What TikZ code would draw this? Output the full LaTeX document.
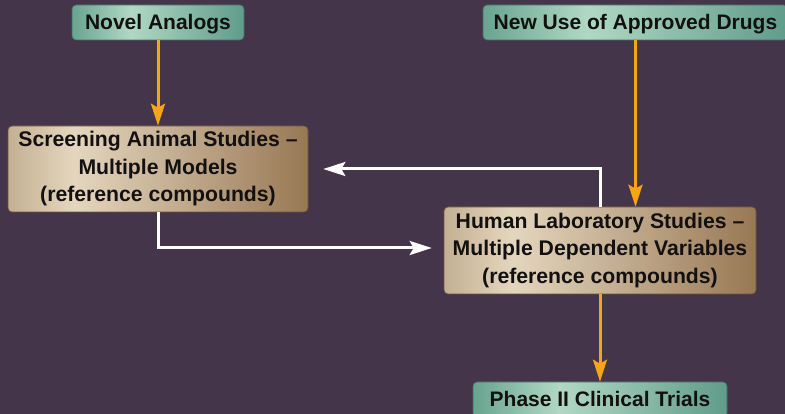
\documentclass[tikz,border=0pt]{standalone}
\usepackage{fontspec}
\setmainfont{Liberation Sans}
\usetikzlibrary{arrows.meta,calc}
\definecolor{bg}{RGB}{69,53,74}
\definecolor{orarrow}{RGB}{245,165,22}
\definecolor{txt}{RGB}{18,16,16}
\definecolor{grA}{RGB}{104,164,144}
\definecolor{grB}{RGB}{176,216,196}
\definecolor{grC}{RGB}{96,156,138}
\definecolor{tnA}{RGB}{196,176,146}
\definecolor{tnB}{RGB}{228,214,190}
\definecolor{tnC}{RGB}{152,120,84}
\pgfdeclarehorizontalshading{greensh}{100bp}{color(0bp)=(grA); color(25bp)=(grA); color(42bp)=(grB); color(75bp)=(grC); color(100bp)=(grC)}
\pgfdeclarehorizontalshading{tansh}{100bp}{color(0bp)=(tnA); color(25bp)=(tnA); color(36bp)=(tnB); color(75bp)=(tnC); color(100bp)=(tnC)}
\tikzset{
  greenbox/.style={rounded corners=4pt, shading=greensh, draw=grC!70!black, line width=0.6pt,
    inner sep=0pt, text height=15pt, text depth=0pt, font=\bfseries\fontsize{21}{23}\selectfont, text=txt, align=center},
  tanbox/.style={rounded corners=4pt, shading=tansh, draw=tnC!70!black, line width=0.6pt,
    inner sep=0pt, font=\bfseries\fontsize{21.2}{27.5}\selectfont, text=txt, align=center},
  orline/.style={draw=orarrow, line width=3pt, -{Stealth[length=22pt,width=14pt,inset=4pt]}},
  whline/.style={draw=white, line width=3pt, -{Stealth[length=22pt,width=14pt,inset=4pt]}},
}
\begin{document}
\begin{tikzpicture}[x=1pt,y=1pt]
\fill[bg] (0,0) rectangle (785,414);
\useasboundingbox (0,0) rectangle (785,414);
\begin{scope}
\clip (0,0) rectangle (785,414);
\node[greenbox, minimum width=172pt, minimum height=35pt] (novel) at (158,391.5) {Novel Analogs};
\node[greenbox, minimum width=305pt, minimum height=35pt] (newuse) at (635.5,391.5) {New Use of Approved Drugs};
\node[tanbox, minimum width=300pt, minimum height=86pt] (screen) at (158,245) {Screening Animal Studies –\\Multiple Models\\(reference compounds)};
\node[tanbox, minimum width=312pt, minimum height=87pt] (human) at (600,163.5) {Human Laboratory Studies –\\Multiple Dependent Variables\\(reference compounds)};
\node[greenbox, minimum width=254pt, minimum height=35pt] (phase) at (600,14.5) {Phase II Clinical Trials};
\end{scope}
\coordinate (wl) at ($(screen.east)+(15,0)$);
\coordinate (wr) at ($(human.west)+(-12,2.5)$);
\draw[orline] (novel.south) -- (screen.north);
\draw[orline] (newuse.south) -- (newuse.south |- human.north);
\draw[orline] (human.south) -- (phase.north);
\draw[whline] (human.north) |- (wl);
\draw[whline] (screen.south) |- (wr);
\end{tikzpicture}
\end{document}
